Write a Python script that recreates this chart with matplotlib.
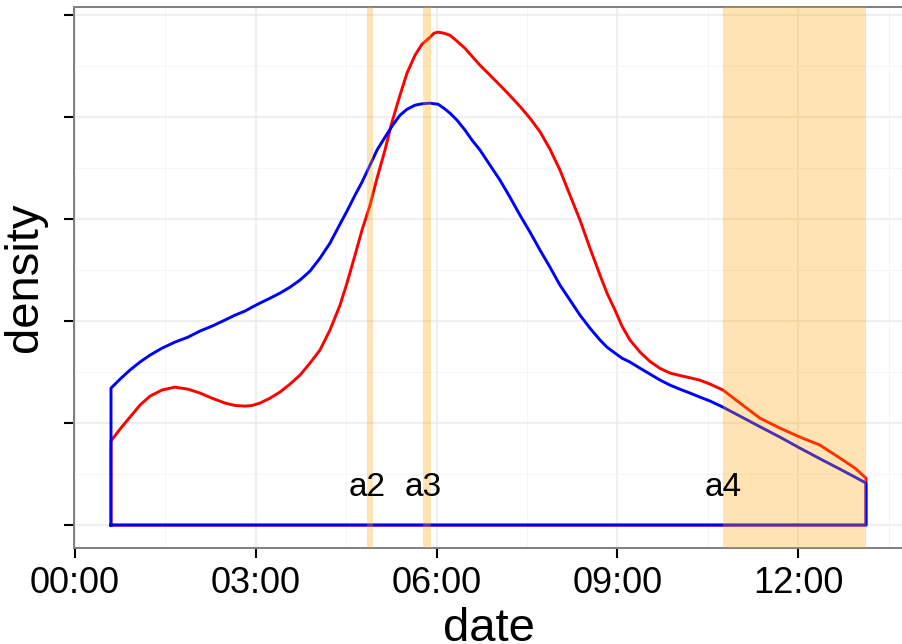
import numpy as np
import matplotlib
matplotlib.use("Agg")
import matplotlib.pyplot as plt

plt.rcParams['font.family'] = ['Liberation Sans', 'DejaVu Sans']

# hours since midnight
hours = [0.600, 0.749, 0.915, 1.081, 1.247, 1.446, 1.662, 1.877, 2.076, 2.275,
         2.491, 2.657, 2.823, 2.939, 3.071, 3.237, 3.403, 3.569, 3.735, 3.901,
         4.066, 4.232, 4.398, 4.514, 4.647, 4.763, 4.896, 5.012, 5.144, 5.260,
         5.393, 5.509, 5.642, 5.758, 5.891, 5.957, 6.023, 6.122, 6.222, 6.338,
         6.471, 6.587, 6.720, 6.886, 7.051, 7.217, 7.383, 7.549, 7.715, 7.881,
         8.046, 8.212, 8.378, 8.544, 8.710, 8.826, 8.958, 9.075, 9.207, 9.373,
         9.539, 9.705, 9.871, 10.036, 10.202, 10.368, 10.534, 10.749, 11.031, 11.363,
         11.695, 12.027, 12.358, 12.690, 12.939, 13.121]

red_density = [0.0412, 0.0470, 0.0529, 0.0588, 0.0632, 0.0662, 0.0676, 0.0666, 0.0647, 0.0622,
               0.0598, 0.0586, 0.0583, 0.0586, 0.0598, 0.0622, 0.0652, 0.0691, 0.0735, 0.0794,
               0.0858, 0.0956, 0.1078, 0.1186, 0.1323, 0.1446, 0.1568, 0.1700, 0.1838, 0.1975,
               0.2107, 0.2215, 0.2303, 0.2357, 0.2391, 0.2411, 0.2416, 0.2411, 0.2401, 0.2372,
               0.2337, 0.2298, 0.2254, 0.2205, 0.2156, 0.2105, 0.2052, 0.1994, 0.1928, 0.1842,
               0.1740, 0.1617, 0.1495, 0.1357, 0.1225, 0.1137, 0.1054, 0.0975, 0.0907, 0.0848,
               0.0802, 0.0768, 0.0745, 0.0733, 0.0722, 0.0710, 0.0691, 0.0662, 0.0598, 0.0524,
               0.0475, 0.0431, 0.0392, 0.0328, 0.0279, 0.0230]

blue_density = [0.0671, 0.0715, 0.0760, 0.0799, 0.0833, 0.0867, 0.0897, 0.0921, 0.0951, 0.0975,
                0.1005, 0.1029, 0.1049, 0.1068, 0.1088, 0.1112, 0.1137, 0.1166, 0.1201, 0.1245,
                0.1308, 0.1382, 0.1475, 0.1539, 0.1617, 0.1681, 0.1764, 0.1838, 0.1901, 0.1955,
                0.2009, 0.2038, 0.2058, 0.2065, 0.2068, 0.2065, 0.2063, 0.2043, 0.2019, 0.1985,
                0.1936, 0.1887, 0.1838, 0.1764, 0.1691, 0.1607, 0.1519, 0.1436, 0.1348, 0.1264,
                0.1176, 0.1103, 0.1029, 0.0965, 0.0907, 0.0872, 0.0843, 0.0818, 0.0799, 0.0769,
                0.0740, 0.0711, 0.0686, 0.0666, 0.0647, 0.0627, 0.0608, 0.0578, 0.0534, 0.0482,
                0.0431, 0.0377, 0.0325, 0.0274, 0.0235, 0.0206]

# highlighted intervals (start, end) in hours
band_labels = ['a2', 'a3', 'a4']
band_start = [4.85, 5.78, 10.75]
band_end = [4.95, 5.90, 13.12]

tick_hours = [0, 3, 6, 9, 12]
tick_labels = ['00:00', '03:00', '06:00', '09:00', '12:00']


def outline(x, y):
    # closed outline like geom_density: down to zero at both ends
    x = np.asarray(x)
    y = np.asarray(y)
    xs = np.concatenate([[x[0]], x, [x[-1]], [x[0]]])
    ys = np.concatenate([[0], y, [0], [0]])
    return xs, ys


fig = plt.figure(figsize=(9.02, 6.44), dpi=100)
ax = fig.add_axes([0.0816, 0.149, 0.9205, 0.840])

xr, yr = outline(hours, red_density)
xb, yb = outline(hours, blue_density)
ax.plot(xr, yr, color='#FF0000', lw=2.1, solid_joinstyle='round', zorder=3)
ax.plot(xb, yb, color='#0000FF', lw=2.1, solid_joinstyle='round', zorder=4)

for lab, s, e in zip(band_labels, band_start, band_end):
    ax.axvspan(s, e, color='orange', alpha=0.3, lw=0, zorder=5)
    ax.text(s, 0.0185, lab, ha='center', va='center', fontsize=24, zorder=6)

ax.set_xlim(-0.02, 13.75)
ax.set_ylim(-0.01127, 0.2539)

ax.set_xticks(tick_hours)
ax.set_xticklabels(tick_labels)
ax.set_xticks([1.5, 4.5, 7.5, 10.5, 13.5], minor=True)
ax.set_yticks([0, 0.05, 0.10, 0.15, 0.20, 0.25])
ax.set_yticklabels([])
ax.set_yticks([0.025, 0.075, 0.125, 0.175, 0.225], minor=True)

ax.grid(which='major', color='#EBEBEB', lw=1.1, zorder=0)
ax.grid(which='minor', color='#F4F4F4', lw=0.6, zorder=0)
ax.set_axisbelow(True)

ax.tick_params(which='major', length=7, width=1.5, color='black',
               labelsize=26, pad=6)
ax.tick_params(which='minor', length=0)

for side in ['left', 'top', 'bottom', 'right']:
    ax.spines[side].set_color('#7F7F7F')
    ax.spines[side].set_linewidth(1.4)

ax.set_xlabel('date', fontsize=34, labelpad=4)
ax.set_ylabel('density', fontsize=34, labelpad=6)

fig.savefig('out.png', dpi=100)
